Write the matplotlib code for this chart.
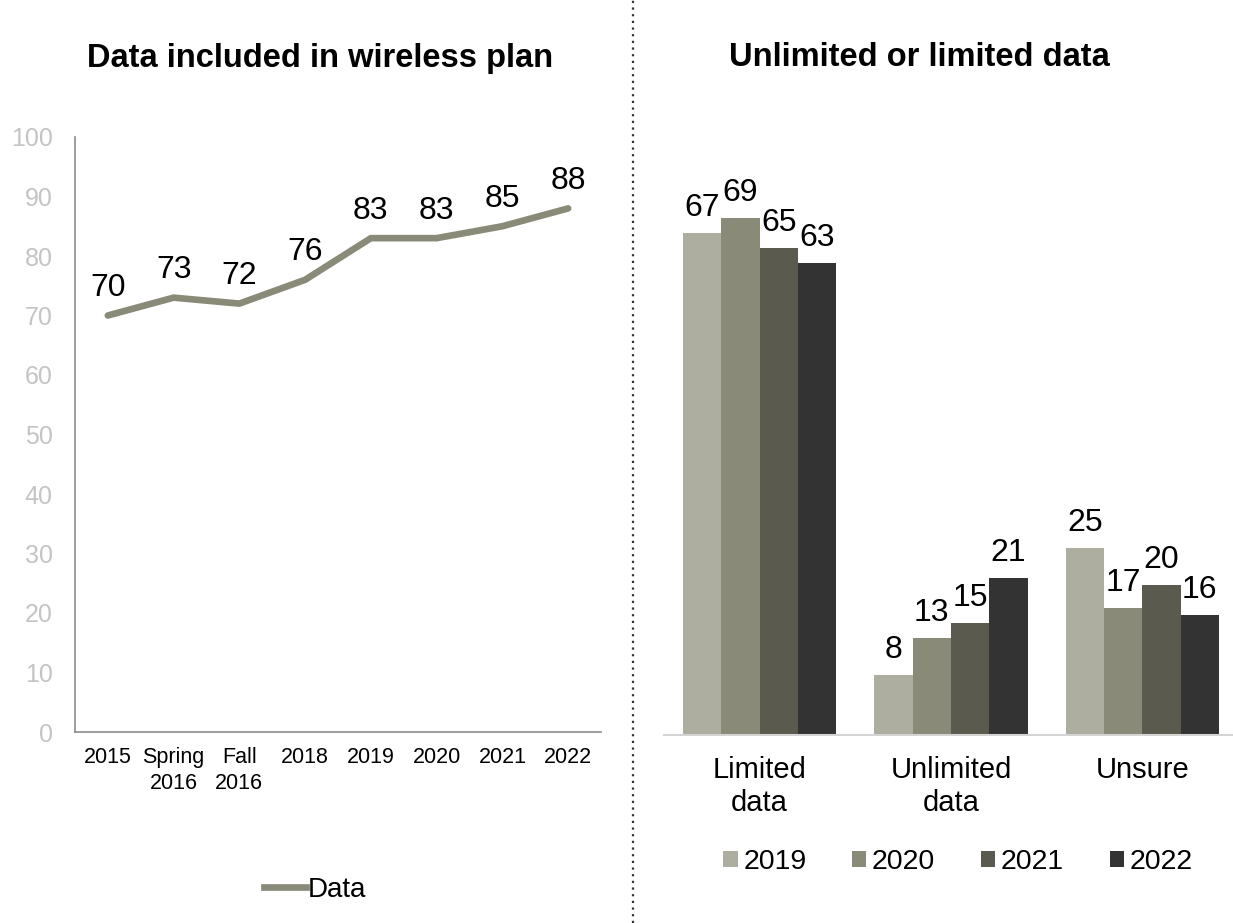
import matplotlib.pyplot as plt
from matplotlib.lines import Line2D

plt.rcParams['font.family'] = ['Liberation Sans', 'DejaVu Sans']

# left panel: share with data in their plan
periods = ["2015", "Spring\n2016", "Fall\n2016", "2018", "2019", "2020", "2021", "2022"]
data_pct = [70, 73, 72, 76, 83, 83, 85, 88]

# right panel: unlimited vs limited
categories = ["Limited\ndata", "Unlimited\ndata", "Unsure"]
years = ["2019", "2020", "2021", "2022"]
pct_2019 = [67, 8, 25]
pct_2020 = [69, 13, 17]
pct_2021 = [65, 15, 20]
pct_2022 = [63, 21, 16]
bar_colors = ["#adada0", "#8a8a78", "#5a5a4e", "#333333"]

W, H = 1233, 923
fig = plt.figure(figsize=(W / 100, H / 100), dpi=100)

# ---- line chart
ax1 = fig.add_axes([75 / W, (H - 732) / H, 526 / W, 595 / H])
x = list(range(len(periods)))
ax1.plot(x, data_pct, color="#8a8a78", lw=4.8, solid_capstyle="round", label="Data")
for xi, v in zip(x, data_pct):
    ax1.annotate(str(v), (xi, v), xytext=(0, 9), textcoords="offset points",
                 ha="center", va="bottom", fontsize=23)
ax1.set_xlim(-0.5, len(periods) - 0.5)
ax1.set_ylim(0, 100)
ax1.set_yticks(range(0, 101, 10))
ax1.set_xticks(x)
ax1.set_xticklabels(periods, fontsize=15.5, linespacing=1.3)
ax1.tick_params(axis="x", length=0, pad=11)
ax1.tick_params(axis="y", length=0, pad=16, labelsize=18, labelcolor="#c4c4c4")
for s in ["top", "right"]:
    ax1.spines[s].set_visible(False)
ax1.spines["left"].set_color("#8c8c8c")
ax1.spines["bottom"].set_color("#8c8c8c")
ax1.spines["left"].set_linewidth(1.2)
ax1.spines["bottom"].set_linewidth(1.2)
fig.text(320 / W, 1 - 58 / H, "Data included in wireless plan", ha="center", va="center",
         fontsize=23.5, fontweight="bold")
fig.legend(handles=[Line2D([], [], color="#8a8a78", lw=4.8)], labels=["Data"],
           loc="center", bbox_to_anchor=(315 / W, 1 - 890 / H), frameon=False,
           fontsize=20, handlelength=1.5, handletextpad=0.05)

# ---- grouped bars
ax2 = fig.add_axes([664 / W, (H - 735) / H, 574 / W, 600 / H])
bw = 0.2
series = [pct_2019, pct_2020, pct_2021, pct_2022]
for i, (vals, yr, c) in enumerate(zip(series, years, bar_colors)):
    pos = [k + (i - 1.5) * bw for k in range(len(categories))]
    bars = ax2.bar(pos, vals, width=bw, color=c, label=yr)
    ax2.bar_label(bars, labels=[str(v) for v in vals], padding=7, fontsize=23)
ax2.set_xlim(-0.5, 2.5)
ax2.set_ylim(0, 80)
ax2.set_yticks([])
ax2.set_xticks(range(len(categories)))
ax2.set_xticklabels(categories, fontsize=21, linespacing=1.25)
ax2.tick_params(axis="x", length=0, pad=15)
for s in ["top", "right", "left"]:
    ax2.spines[s].set_visible(False)
ax2.spines["bottom"].set_color("#d4d4d4")
ax2.spines["bottom"].set_linewidth(1.5)
fig.text(919 / W, 1 - 58 / H, "Unlimited or limited data", ha="center", va="center",
         fontsize=23.5, fontweight="bold")
ax2.legend(loc="center", bbox_to_anchor=(958 / W, 1 - 862 / H),
           bbox_transform=fig.transFigure, ncol=4, frameon=False, fontsize=20.5,
           handlelength=0.5, handleheight=0.5, handletextpad=0.2, columnspacing=1.6)

# divider between panels
fig.add_artist(Line2D([633 / W, 633 / W], [0, 1], transform=fig.transFigure,
                      color="#333333", lw=1.6, ls=(0, (1, 2))))

fig.savefig("out.png", dpi=100)
